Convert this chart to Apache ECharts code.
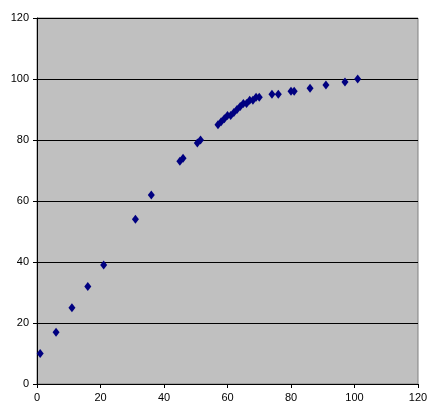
<!DOCTYPE html>
<html><head><meta charset="utf-8">
<script src="https://cdn.jsdelivr.net/npm/echarts@6/dist/echarts.min.js"></script>
<style>html,body{margin:0;background:#fff}#c{width:438px;height:415px}</style>
</head><body><div id="c"></div>
<script>
const xs = [1, 6, 11, 16, 21, 31, 36, 45, 46, 50.5, 51.5, 57, 58, 59, 60, 61, 62, 63, 64, 65, 66, 67, 68, 69, 70, 74, 76, 80, 81, 86, 91, 97, 101];
const ys = [10, 17, 25, 32, 39, 54, 62, 73, 74, 79, 80, 85, 86, 87, 88, 88, 89, 90, 91, 92, 92, 93, 93, 94, 94, 95, 95, 96, 96, 97, 98, 99, 100];
const xTicks = [0, 20, 40, 60, 80, 100, 120];
const yTicks = [0, 20, 40, 60, 80, 100, 120];

const chart = echarts.init(document.getElementById('c'));
const lbl = { color: '#000', fontFamily: 'Liberation Sans', fontSize: 11 };
chart.setOption({
    animation: false,
    grid: { left: 37, right: 20, top: 18, bottom: 31, backgroundColor: '#c0c0c0', show: true, borderColor: '#808080', borderWidth: 1 },
    xAxis: {
        type: 'value', min: xTicks[0], max: xTicks[xTicks.length - 1], interval: 20,
        axisLine: { lineStyle: { color: '#000' } },
        axisTick: { show: true, inside: false, length: 4, lineStyle: { color: '#000' } },
        splitLine: { show: false },
        axisLabel: lbl
    },
    yAxis: {
        type: 'value', min: yTicks[0], max: yTicks[yTicks.length - 1], interval: 20,
        axisLine: { show: true, lineStyle: { color: '#000' } },
        axisTick: { show: true, length: 4, lineStyle: { color: '#000' } },
        splitLine: { show: true, lineStyle: { color: '#000', width: 1 } },
        axisLabel: lbl
    },
    series: [{
        type: 'scatter', symbol: 'diamond', symbolSize: [7, 9],
        itemStyle: { color: '#000080', opacity: 1 },
        data: xs.map((x, i) => [x, ys[i]])
    }]
});
</script></body></html>
